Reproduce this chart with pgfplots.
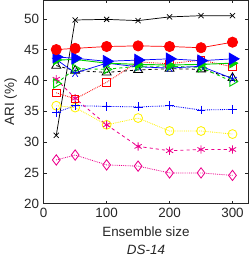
\documentclass[border=0pt]{standalone}
\usepackage{fontspec}
\setmainfont{Liberation Sans}
\usepackage{pgfplots}
\pgfplotsset{compat=1.18}
\definecolor{mgreen}{RGB}{0,210,0}
\definecolor{axgray}{RGB}{38,38,38}
\begin{document}
\fontsize{13}{15}\selectfont
\begin{tikzpicture}
\begin{axis}[
  width=198pt, height=197pt, scale only axis,
  xmin=0, xmax=325, ymin=20, ymax=53,
  xtick={0,100,200,300}, ytick={20,25,30,35,40,45,50},
  tick pos=both, tick align=inside,
  major tick length=3pt,
  axis line style={axgray, line width=0.5pt},
  every tick/.style={axgray, line width=0.5pt},
  tick label style={font=\fontsize{13}{15}\selectfont, text=axgray},
  /pgf/number format/assume math mode=true,
  xlabel={Ensemble size\\[2pt]\textit{DS-14}},
  xlabel style={align=center, font=\fontsize{13}{15}\selectfont, text=axgray},
  ylabel={ARI (\%)},
  ylabel style={font=\fontsize{13}{15}\selectfont, text=axgray, yshift=-2pt},
  clip=false,
]
% black x solid
\addplot[black, line width=0.7pt, mark=x, mark size=3.5pt] coordinates {(20,31.1)(50,49.8)(100,49.9)(150,49.7)(200,50.3)(250,50.5)(300,50.5)};
% magenta diamond dotted
\addplot[magenta, densely dotted, line width=0.8pt, mark=diamond, mark size=5pt, mark options={solid, fill=none}] coordinates {(20,27.1)(50,27.9)(100,26.3)(150,26.1)(200,25.0)(250,25.0)(300,24.6)};
% yellow circle dotted
\addplot[yellow, densely dotted, line width=0.8pt, mark=o, mark size=4.3pt, mark options={solid}] coordinates {(20,35.9)(50,35.6)(100,32.8)(150,33.9)(200,31.8)(250,31.8)(300,31.3)};
% blue plus dotted
\addplot[blue, densely dotted, line width=0.8pt, mark=+, mark size=4.3pt, mark options={solid}] coordinates {(20,34.8)(50,35.9)(100,35.8)(150,35.7)(200,35.9)(250,35.2)(300,35.3)};
% magenta asterisk dashed
\addplot[magenta, dashed, line width=0.8pt, mark=asterisk, mark size=4pt, mark options={solid}] coordinates {(20,40.2)(50,37.1)(100,32.8)(150,29.3)(200,28.6)(250,28.8)(300,28.8)};
% red square dotted
\addplot[red, densely dotted, line width=0.8pt, mark=square, mark size=3.6pt, mark options={solid, draw=red}] coordinates {(20,38.0)(50,37.0)(100,39.7)(150,43.0)(200,42.7)(250,43.3)(300,42.2)};
% black triangle dashed
\addplot[black, dashed, line width=0.8pt, mark=triangle, mark size=5pt, mark options={solid}] coordinates {(20,42.4)(50,41.6)(100,41.3)(150,41.7)(200,41.9)(250,41.8)(300,40.4)};
% green open triangle-right dashed
\addplot[mgreen, dashed, line width=0.9pt, mark=triangle, mark size=5pt, mark options={solid, rotate=-90}] coordinates {(20,39.5)(50,41.9)(100,41.8)(150,42.3)(200,42.3)(250,42.1)(300,39.8)};
% blue star solid
\addplot[blue, line width=0.7pt, mark=star, mark size=4.5pt] coordinates {(20,43.4)(50,41.2)(100,42.8)(150,42.2)(200,42.0)(250,42.3)(300,40.3)};
% green filled triangle solid
\addplot[mgreen, line width=0.9pt, mark=triangle*, mark size=5pt, mark options={rotate=-90}] coordinates {(20,43.3)(50,43.4)(100,42.8)(150,42.6)(200,42.5)(250,42.6)(300,42.8)};
% blue filled triangle-right solid
\addplot[blue, line width=0.7pt, mark=triangle*, mark size=6.5pt, mark options={rotate=-90}] coordinates {(20,43.8)(50,43.6)(100,43.1)(150,43.3)(200,43.5)(250,43.2)(300,43.5)};
% red filled circle solid
\addplot[red, line width=0.7pt, mark=*, mark size=5pt] coordinates {(20,45.0)(50,45.2)(100,45.5)(150,45.6)(200,45.5)(250,45.3)(300,46.2)};
\end{axis}
\end{tikzpicture}
\end{document}
